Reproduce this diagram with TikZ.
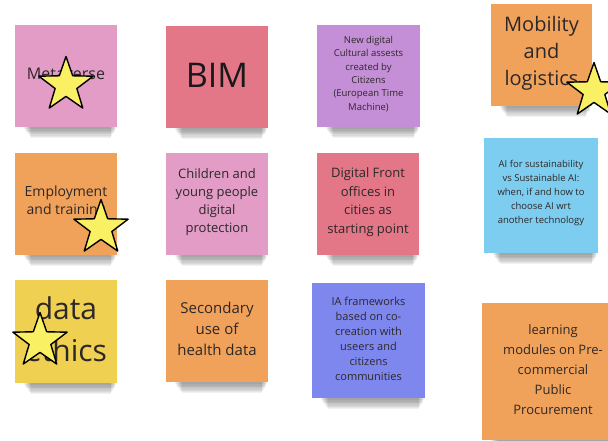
\documentclass[tikz,border=0pt]{standalone}
\usepackage{fontspec}
\setmainfont{Open Sans}
\usetikzlibrary{shapes.geometric}
\definecolor{pinknote}{RGB}{226,156,198}
\definecolor{rednote}{RGB}{227,118,135}
\definecolor{purplenote}{RGB}{196,143,214}
\definecolor{orangenote}{RGB}{241,162,90}
\definecolor{bluenote}{RGB}{125,205,240}
\definecolor{yellownote}{RGB}{240,208,80}
\definecolor{violetnote}{RGB}{126,135,238}
\definecolor{txt}{RGB}{45,40,40}
\definecolor{staryellow}{RGB}{250,240,100}
\tikzset{
  notetext/.style={inner sep=0pt, align=center, text=txt},
  starmark/.style={star, star points=5, star point ratio=2.5, draw=black, line width=1.4pt,
    fill=staryellow, minimum size=57pt, inner sep=0pt, line join=round},
}
% name, x1, y1, x2, y2, colour, font size, leading, text
\newcommand\stickynote[9]{%
  \foreach \k in {1,...,8}{%
    \fill[black, opacity=0.05] (#2+8+\k, #5-3) rectangle (#4-\k*0.8, #5+1+\k*1.3);
  }
  \fill[#6] (#2,#3) rectangle (#4,#5);
  \node[notetext, font={\fontsize{#7}{#8}\selectfont}] (#1) at ({(#2+#4)/2},{(#3+#5)/2-2}) {#9};
}
\begin{document}
\begin{tikzpicture}[x=1pt,y=-1pt]
\useasboundingbox (0,0) rectangle (608,441);
\clip (0,0) rectangle (608,441);
\fill[white] (0,0) rectangle (608,441);

\stickynote{meta}{15}{25}{117}{127}{pinknote}{16}{20}{Metaverse}
\stickynote{bim}{166}{26}{268}{128}{rednote}{34}{40}{\color{black!90}BIM}
\stickynote{cult}{317}{25}{420}{127}{purplenote}{9.5}{13.3}{New digital\\Cultural assests\\created by\\Citizens\\(European Time\\Machine)}
\stickynote{mob}{491}{4}{592}{106}{orangenote}{20}{27}{Mobility\\and\\logistics}

\stickynote{emp}{15}{153}{117}{255}{orangenote}{14}{18}{Employment\\and training}
\stickynote{child}{166}{153}{268}{255}{pinknote}{13}{18}{Children and\\young people\\digital\\protection}
\stickynote{front}{317}{153}{419}{255}{rednote}{13}{18.5}{Digital Front\\offices in\\cities as\\starting point}
\stickynote{ai}{484}{138}{598}{253}{bluenote}{9.5}{14}{AI for sustainability\\vs Sustainable AI:\\when, if and how to\\choose AI wrt\\another technology}

\stickynote{data}{15}{280}{117}{383}{yellownote}{30}{42}{data\\ethics}
\stickynote{sec}{166}{280}{268}{382}{orangenote}{15}{21}{Secondary\\use of\\health data}
\stickynote{ia}{312}{283}{425}{398}{violetnote}{11}{15}{IA frameworks\\based on co-\\creation with\\useers and\\citizens\\communities}
\stickynote{learn}{482}{303}{624}{440}{orangenote}{13}{20}{learning\\modules on Pre-\\commercial\\Public\\Procurement}

\node[starmark] (star1) at (66,85) {};
\node[starmark] (star2) at (101,228) {};
\node[starmark] (star3) at (40,341) {};
\node[starmark] (star4) at (594,91) {};
\end{tikzpicture}
\end{document}
